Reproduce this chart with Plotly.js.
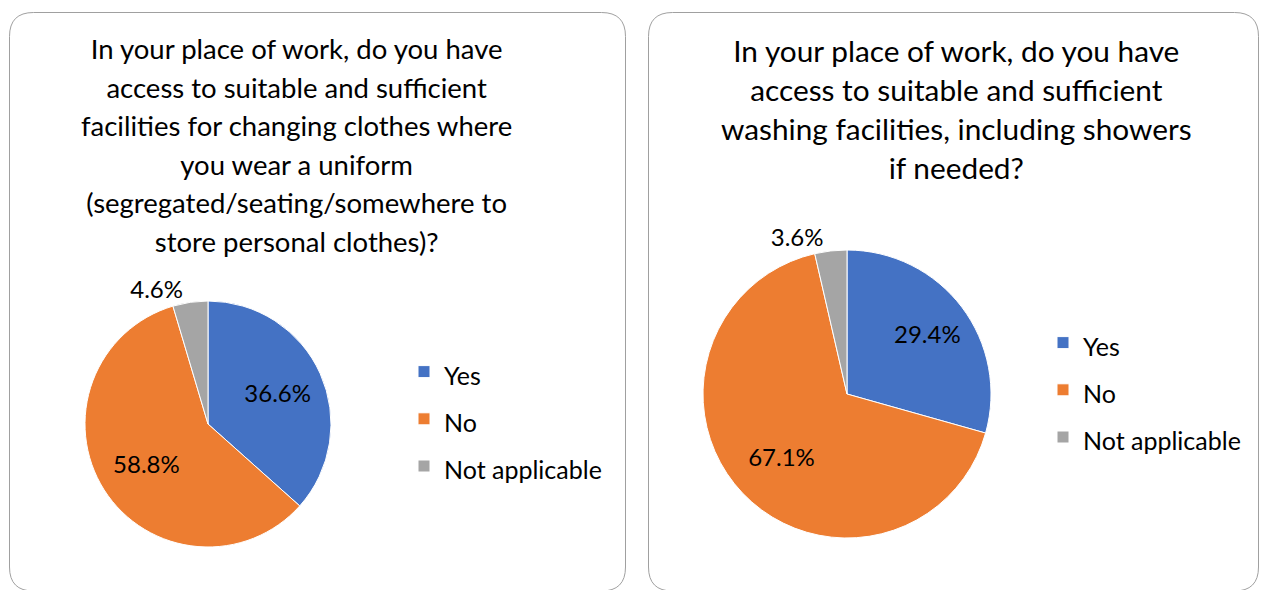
<!DOCTYPE html>
<html>
<head>
<meta charset="utf-8">
<script src="https://cdn.plot.ly/plotly-3.0.1.min.js"></script>
<style>
html,body{margin:0;padding:0;background:#ffffff;}
#chart{width:1261px;height:590px;}
</style>
</head>
<body>
<div id="chart"></div>
<script>
// ---- data ----
const categories = ["Yes", "No", "Not applicable"];
const changingValues = [36.6, 58.8, 4.6];
const washingValues = [29.4, 67.1, 3.6];
const sliceColors = ["#4472C4", "#ED7D31", "#A5A5A5"];
const titleLeftLines = [
  "In your place of work, do you have",
  "access to suitable and sufficient",
  "facilities for changing clothes where",
  "you wear a uniform",
  "(segregated/seating/somewhere to",
  "store personal clothes)?"
];
const titleRightLines = [
  "In your place of work, do you have",
  "access to suitable and sufficient",
  "washing facilities, including showers",
  "if needed?"
];

// ---- layout helpers (pixels -> paper) ----
const W = 1261, H = 590;
const FONT = "Lato, 'Open Sans', sans-serif";
const px = x => x / W;
const py = y => 1 - y / H;

function roundRect(x0, y0, x1, y1, r) {
  const rx = r / W, ry = r / H;
  const a = px(x0), b = px(x1), t = py(y0), u = py(y1);
  return `M${a + rx},${t} L${b - rx},${t} Q${b},${t} ${b},${t - ry} ` +
         `L${b},${u + ry} Q${b},${u} ${b - rx},${u} L${a + rx},${u} ` +
         `Q${a},${u} ${a},${u + ry} L${a},${t - ry} Q${a},${t} ${a + rx},${t} Z`;
}

function pieDomain(cx, cy, r) {
  return { x: [px(cx - r), px(cx + r)], y: [py(cy + r), py(cy - r)] };
}

// legend entries of the two pies must be distinct strings so each legend keeps its own items
function legendLabels(size, tag) {
  return categories.map(c => `<span style="font-size:${size}px;${tag}">${c}</span>`);
}

const LABEL = "%{value:.1f}%";

// visible pie: slices + the outside label of the small slice
function pieTrace(values, domain, legendId, tag) {
  return {
    type: "pie",
    labels: legendLabels(25, tag),
    values: values,
    domain: domain,
    sort: false,
    direction: "clockwise",
    rotation: 0,
    marker: { colors: sliceColors, line: { color: "#ffffff", width: 1 } },
    texttemplate: ["", "", LABEL],
    textposition: ["none", "none", "outside"],
    textfont: { family: FONT, size: 24, color: "#000000" },
    outsidetextfont: { family: FONT, size: 24, color: "#000000" },
    hoverinfo: "label+value",
    legend: legendId,
    showlegend: true
  };
}

// transparent companion pie (same data, larger radius) that carries the inside labels
// so they sit further out along each slice's bisector, like the original
function labelTrace(values, domain, tag) {
  return {
    type: "pie",
    labels: legendLabels(25, tag),
    values: values,
    domain: domain,
    sort: false,
    direction: "clockwise",
    rotation: 0,
    marker: { colors: ["rgba(0,0,0,0)", "rgba(0,0,0,0)", "rgba(0,0,0,0)"], line: { width: 0 } },
    texttemplate: [LABEL, LABEL, ""],
    textposition: ["inside", "inside", "none"],
    insidetextorientation: "horizontal",
    textfont: { family: FONT, size: 24, color: "#000000" },
    hoverinfo: "skip",
    showlegend: false
  };
}

const traces = [
  pieTrace(changingValues, pieDomain(208, 424, 123), "legend", "font-weight:normal"),
  pieTrace(washingValues, pieDomain(847, 394, 144), "legend2", "font-style:normal"),
  labelTrace(changingValues, pieDomain(208, 424, 146), "font-weight:normal"),
  labelTrace(washingValues, pieDomain(847, 394, 181), "font-style:normal")
];

function titleText(lines, size) {
  return lines.map(l => `<span style="font-size:${size}px">${l}</span>`).join("<br>");
}

const legendCommon = {
  font: { family: FONT, size: 34, color: "#000000" },
  bgcolor: "rgba(0,0,0,0)",
  borderwidth: 0,
  xanchor: "left",
  yanchor: "top",
  orientation: "v"
};

const layout = {
  width: W,
  height: H,
  margin: { l: 0, r: 0, t: 0, b: 0 },
  paper_bgcolor: "#ffffff",
  plot_bgcolor: "#ffffff",
  font: { family: FONT, color: "#000000" },
  showlegend: true,
  legend: Object.assign({}, legendCommon, { x: px(404), y: py(343) }),
  legend2: Object.assign({}, legendCommon, { x: px(1043), y: py(314) }),
  shapes: [
    { type: "path", xref: "paper", yref: "paper", path: roundRect(9.5, 12.5, 625.5, 591, 24),
      line: { color: "#A0A0A0", width: 1 }, fillcolor: "rgba(0,0,0,0)", layer: "below" },
    { type: "path", xref: "paper", yref: "paper", path: roundRect(648.5, 12.5, 1258.5, 591, 24),
      line: { color: "#A0A0A0", width: 1 }, fillcolor: "rgba(0,0,0,0)", layer: "below" }
  ],
  annotations: [
    { xref: "paper", yref: "paper", x: px(296), y: py(30), xanchor: "center", yanchor: "top",
      showarrow: false, align: "center", text: titleText(titleLeftLines, 27.5),
      font: { family: FONT, size: 29.7, color: "#000000" } },
    { xref: "paper", yref: "paper", x: px(956), y: py(31), xanchor: "center", yanchor: "top",
      showarrow: false, align: "center", text: titleText(titleRightLines, 29.8),
      font: { family: FONT, size: 30, color: "#000000" } }
  ]
};

Plotly.newPlot("chart", traces, layout, { displayModeBar: false, staticPlot: true });
</script>
</body>
</html>
